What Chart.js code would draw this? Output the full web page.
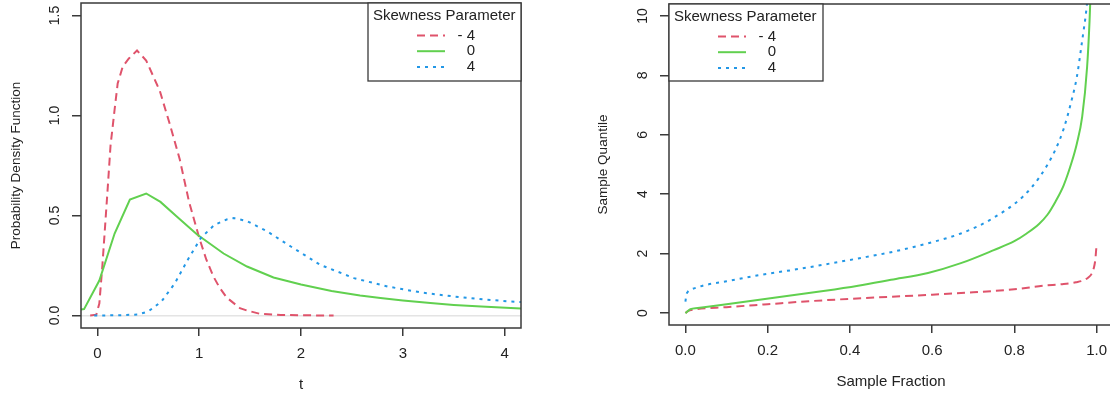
<!DOCTYPE html>
<html>
<head>
<meta charset="utf-8">
<script src="https://cdn.jsdelivr.net/npm/chart.js@4.4.1/dist/chart.umd.min.js"></script>
<style>
  html, body { margin: 0; padding: 0; background: #fff; overflow: hidden; }
  body { width: 1110px; height: 396px; position: relative; }
  #pdf-chart { position: absolute; left: 0; top: 0; }
  #quantile-chart { position: absolute; left: 560px; top: 0; }
</style>
</head>
<body>
<canvas id="pdf-chart" width="545" height="396"></canvas>
<canvas id="quantile-chart" width="556" height="396"></canvas>
<script>
// legend / series names
const legendTitle = 'Skewness Parameter';
const seriesLabels = ['- 4', '0', '4'];

// left panel: density vs t
const pdfTicksX = [0, 1, 2, 3, 4];
const pdfTicksY = [0, 0.5, 1.0, 1.5];
const tNeg4 = [-0.07, -0.01, 0.02, 0.05, 0.10, 0.13, 0.17, 0.20, 0.25, 0.31, 0.39, 0.48, 0.59, 0.61, 0.68, 0.71, 0.81, 0.90, 1.00, 1.07, 1.14, 1.20, 1.27, 1.40, 1.47, 1.60, 1.80, 2.00, 2.32];
const pdfNeg4 = [0, 0.004, 0.06, 0.25, 0.62, 0.85, 1.03, 1.16, 1.245, 1.285, 1.325, 1.275, 1.15, 1.13, 1.01, 0.96, 0.78, 0.57, 0.39, 0.28, 0.195, 0.14, 0.09, 0.037, 0.025, 0.008, 0.003, 0.001, 0];
const tZero = [-0.16, -0.13, 0.02, 0.17, 0.32, 0.48, 0.62, 0.78, 0.98, 1.24, 1.47, 1.73, 2.0, 2.3, 2.58, 2.78, 3.0, 3.27, 3.5, 3.77, 4.06, 4.16];
const pdfZero = [0.03, 0.032, 0.175, 0.41, 0.58, 0.61, 0.568, 0.495, 0.405, 0.31, 0.245, 0.19, 0.155, 0.123, 0.1, 0.087, 0.075, 0.062, 0.053, 0.045, 0.038, 0.035];
const tPos4 = [-0.03, 0.2, 0.4, 0.5, 0.63, 0.76, 0.89, 1.02, 1.15, 1.27, 1.34, 1.47, 1.67, 1.9, 2.19, 2.52, 2.85, 3.18, 3.5, 3.8, 4.06, 4.16];
const pdfPos4 = [0, 0.001, 0.005, 0.02, 0.07, 0.16, 0.28, 0.39, 0.453, 0.48, 0.487, 0.472, 0.42, 0.345, 0.253, 0.187, 0.145, 0.115, 0.095, 0.08, 0.07, 0.067];

// right panel: sample quantile vs sample fraction
const qTicksX = [0, 0.2, 0.4, 0.6, 0.8, 1.0];
const qTicksY = [0, 2, 4, 6, 8, 10];
const fracNeg4 = [0, 0.005, 0.022, 0.1, 0.2, 0.3, 0.4, 0.5, 0.6, 0.7, 0.8, 0.87, 0.92, 0.95, 0.968, 0.98, 0.988, 0.993, 0.997, 1.0];
const quantNeg4 = [0, 0.06, 0.12, 0.2, 0.3, 0.4, 0.48, 0.55, 0.62, 0.7, 0.8, 0.92, 0.98, 1.04, 1.1, 1.2, 1.32, 1.5, 1.8, 2.3];
const fracZero = [0, 0.012, 0.03, 0.045, 0.1, 0.18, 0.26, 0.34, 0.42, 0.5, 0.59, 0.67, 0.75, 0.8, 0.83, 0.86, 0.88, 0.9, 0.92, 0.94, 0.952, 0.965, 0.977, 0.983, 0.99];
const quantZero = [0, 0.13, 0.17, 0.2, 0.3, 0.45, 0.6, 0.75, 0.92, 1.12, 1.35, 1.68, 2.12, 2.42, 2.68, 3.0, 3.3, 3.75, 4.3, 5.1, 5.7, 6.6, 8.28, 9.84, 12.5];
const fracPos4 = [0, 0.002, 0.006, 0.012, 0.03, 0.05, 0.1, 0.18, 0.26, 0.34, 0.42, 0.5, 0.59, 0.67, 0.74, 0.82, 0.86, 0.9, 0.92, 0.94, 0.952, 0.965, 0.975, 0.982];
const quantPos4 = [0.39, 0.6, 0.72, 0.78, 0.87, 0.95, 1.07, 1.28, 1.45, 1.64, 1.84, 2.05, 2.35, 2.68, 3.13, 3.91, 4.55, 5.5, 6.2, 7.2, 7.94, 9.17, 10.18, 11.2];

// line styles (R palette 2,3,4 with lty 2,1,3)
const lineStyles = [
  { color: '#DF536B', dash: [8, 5] },
  { color: '#61D04F', dash: [] },
  { color: '#2297E6', dash: [3, 5] },
];

const FONT = '"Liberation Sans", Arial, Helvetica, sans-serif';
const INK = '#222';
const FRAME = '#3a3a3a';

function toPoints(xs, ys) {
  return xs.map((x, i) => ({ x, y: ys[i] }));
}

function makeDatasets(pairs, smooth) {
  return pairs.map(([xs, ys], i) => ({
    label: seriesLabels[i],
    data: toPoints(xs, ys),
    borderColor: lineStyles[i].color,
    borderDash: lineStyles[i].dash,
    borderWidth: 2,
    borderCapStyle: 'butt',
    pointRadius: 0,
    tension: 0,
    cubicInterpolationMode: smooth ? 'monotone' : 'default',
    fill: false,
    order: 3 - i, // later series on top, as in R
  }));
}

// box around plot region + R-style legend box
const framePlugin = {
  id: 'rFrame',
  afterDraw(chart, args, opts) {
    const { ctx, chartArea: a } = chart;
    ctx.save();
    ctx.strokeStyle = FRAME;
    ctx.lineWidth = 1.5;
    ctx.strokeRect(a.left, a.top, a.right - a.left, a.bottom - a.top);

    const w = opts.width;
    const h = opts.height;
    const x = opts.side === 'right' ? a.right - w : a.left;
    const y = a.top;
    ctx.fillStyle = '#fff';
    ctx.fillRect(x, y, w, h);
    ctx.lineWidth = 1.3;
    ctx.strokeRect(x, y, w, h);

    ctx.font = `15px ${FONT}`;
    ctx.fillStyle = INK;
    ctx.textBaseline = 'middle';
    ctx.textAlign = 'left';
    ctx.fillText(legendTitle, x + 5, y + 13);

    chart.data.datasets.forEach((ds, i) => {
      const rowY = y + 32.5 + i * 15.7;
      ctx.strokeStyle = ds.borderColor;
      ctx.lineWidth = ds.borderWidth;
      ctx.setLineDash(ds.borderDash);
      ctx.beginPath();
      ctx.moveTo(x + 49, rowY);
      ctx.lineTo(x + 77, rowY);
      ctx.stroke();
      ctx.setLineDash([]);
      ctx.textAlign = 'right';
      ctx.fillText(ds.label, x + 107, rowY);
    });
    ctx.restore();
  },
};

function axis(opts) {
  const vertical = !!opts.rotate;
  return {
    type: 'linear',
    bounds: 'data',
    min: opts.min,
    max: opts.max,
    afterBuildTicks: (s) => { s.ticks = opts.ticks.map((v) => ({ value: v })); },
    afterFit: (s) => {
      if (s.isHorizontal()) s.height = opts.size; else s.width = opts.size;
      // chart area is placed by layout padding only
      s.paddingTop = 0;
      s.paddingBottom = 0;
      s.paddingLeft = 0;
      s.paddingRight = 0;
    },
    border: { display: false },
    grid: {
      drawOnChartArea: !!opts.zeroLine,
      drawTicks: true,
      tickLength: vertical ? 9 : 8,
      tickColor: FRAME,
      tickWidth: 1.5,
      lineWidth: 1.5,
      color: (c) => (opts.zeroLine && c.tick && c.tick.value === 0 ? '#e4e4e4' : 'rgba(0,0,0,0)'),
    },
    ticks: {
      autoSkip: false,
      minRotation: vertical ? 90 : 0,
      maxRotation: vertical ? 90 : 0,
      crossAlign: 'center',
      padding: opts.pad,
      color: INK,
      font: { family: FONT, size: vertical ? 14 : 15 },
      callback: opts.fmt,
    },
    title: {
      display: true,
      text: opts.title,
      color: INK,
      font: { family: FONT, size: vertical ? 13.5 : 15 },
      padding: opts.titlePad,
    },
  };
}

function baseOptions(padding, scales, legendOpts) {
  return {
    responsive: false,
    animation: false,
    events: [],
    layout: { padding },
    scales,
    plugins: {
      legend: { display: false },
      tooltip: { enabled: false },
      rFrame: legendOpts,
    },
  };
}

new Chart(document.getElementById('pdf-chart'), {
  type: 'line',
  data: {
    datasets: makeDatasets([[tNeg4, pdfNeg4], [tZero, pdfZero], [tPos4, pdfPos4]], false),
  },
  options: baseOptions(
    { top: 3, right: 24, left: 0, bottom: 0 },
    {
      x: axis({ min: -0.16, max: 4.16, ticks: pdfTicksX, size: 68, pad: 18,
        fmt: (v) => String(v), title: 't', titlePad: { bottom: 2 } }),
      y: axis({ min: -0.0625, max: 1.5625, ticks: pdfTicksY, size: 81, pad: 7, rotate: true, zeroLine: true,
        fmt: (v) => v.toFixed(1), title: 'Probability Density Function', titlePad: { top: 8 } }),
    },
    { side: 'right', width: 153, height: 78 }
  ),
  plugins: [framePlugin],
});

new Chart(document.getElementById('quantile-chart'), {
  type: 'line',
  data: {
    datasets: makeDatasets([[fracNeg4, quantNeg4], [fracZero, quantZero], [fracPos4, quantPos4]], true),
  },
  options: baseOptions(
    { top: 4, right: 3, left: 0, bottom: 0 },
    {
      x: axis({ min: -0.04, max: 1.04, ticks: qTicksX, size: 71, pad: 18,
        fmt: (v) => v.toFixed(1), title: 'Sample Fraction', titlePad: { bottom: 5 } }),
      y: axis({ min: -0.4, max: 10.4, ticks: qTicksY, size: 109, pad: 9, rotate: true,
        fmt: (v) => String(v), title: 'Sample Quantile', titlePad: { top: 35 } }),
    },
    { side: 'left', width: 154, height: 77 }
  ),
  plugins: [framePlugin],
});
</script>
</body>
</html>
